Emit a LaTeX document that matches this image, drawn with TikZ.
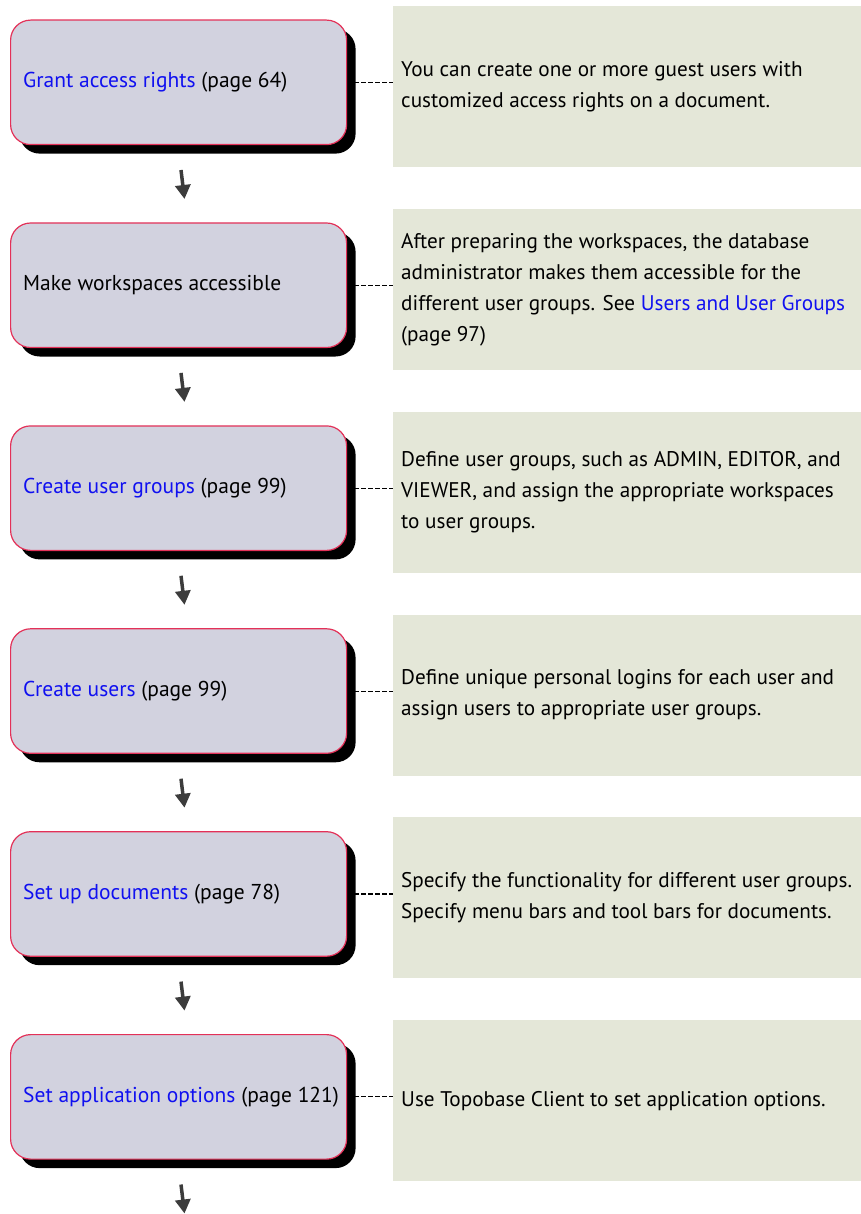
\documentclass[tikz,border=0pt]{standalone}
\usepackage{fontspec}
\setmainfont{PT Sans}
\usetikzlibrary{arrows.meta,calc,backgrounds,shadows}
\definecolor{boxfill}{HTML}{D2D2DF}
\definecolor{boxline}{HTML}{E33158}
\definecolor{panelfill}{HTML}{E4E7D8}
\definecolor{linkblue}{HTML}{1010F0}
\definecolor{arrowgray}{HTML}{3C3C3C}
\newcommand\lnk[1]{\textcolor{linkblue}{#1}}
\tikzset{
  stepbox/.style={draw=boxline, line width=1.2pt, fill=boxfill, rounded corners=20pt,
    minimum width=336pt, minimum height=124.5pt, anchor=north west, inner sep=0pt,
    drop shadow={opacity=1, fill=black, shadow xshift=9pt, shadow yshift=-9pt}},
  steptext/.style={anchor=west, inner sep=0pt, align=left, font=\fontsize{21.5}{31}\selectfont},
  panel/.style={fill=panelfill, draw=none, minimum width=468pt, minimum height=161pt,
    anchor=north west, inner sep=0pt},
  paneltext/.style={anchor=west, inner sep=0pt, align=left, font=\fontsize{21.2}{31}\selectfont},
  dashlink/.style={draw=black, line width=1.1pt, dash pattern=on 4.5pt off 2.5pt},
  flowarrow/.style={draw=arrowgray, line width=3.5pt, -{Triangle[width=15pt,length=14pt]}}
}
\begin{document}
\begin{tikzpicture}[x=1pt,y=-1pt]
\useasboundingbox (0,0) rectangle (861,1214);
% panels
\node[panel] (p1) at (393,6) {};
\node[panel] (p2) at (393,208.8) {};
\node[panel] (p3) at (393,411.6) {};
\node[panel] (p4) at (393,614.4) {};
\node[panel] (p5) at (393,817.2) {};
\node[panel] (p6) at (393,1020) {};
\node[paneltext] (q1) at ($(p1.west)+(8,0)$) {You can create one or more guest users with\\customized access rights on a document.};
\node[paneltext] (q2) at ($(p2.west)+(8,0)$) {After preparing the workspaces, the database\\administrator makes them accessible for the\\different user groups. See \lnk{Users and User Groups}\\(page 97)};
\node[paneltext] (q3) at ($(p3.west)+(8,0)$) {Define user groups, such as ADMIN, EDITOR, and\\VIEWER, and assign the appropriate workspaces\\to user groups.};
\node[paneltext] (q4) at ($(p4.west)+(8,0)$) {Define unique personal logins for each user and\\assign users to appropriate user groups.};
\node[paneltext] (q5) at ($(p5.west)+(8,0)$) {Specify the functionality for different user groups.\\Specify menu bars and tool bars for documents.};
\node[paneltext] (q6) at ($(p6.west)+(8,0)$) {Use Topobase Client to set application options.};
% boxes
\node[stepbox] (b1) at (10,19.5) {};
\node[stepbox] (b2) at (10,222.4) {};
\node[stepbox] (b3) at (10,425.3) {};
\node[stepbox] (b4) at (10,628.2) {};
\node[stepbox] (b5) at (10,831.1) {};
\node[stepbox] (b6) at (10,1034) {};
\node[steptext] (t1) at ($(b1.west)+(13,0)$) {\lnk{Grant access rights} (page 64)};
\node[steptext] (t2) at ($(b2.west)+(13,0)$) {Make workspaces accessible};
\node[steptext] (t3) at ($(b3.west)+(13,0)$) {\lnk{Create user groups} (page 99)};
\node[steptext] (t4) at ($(b4.west)+(13,0)$) {\lnk{Create users} (page 99)};
\node[steptext] (t5) at ($(b5.west)+(13,0)$) {\lnk{Set up documents} (page 78)};
\node[steptext] (t6) at ($(b6.west)+(13,0)$) {\lnk{Set application options} (page 121)};
% dashed links
\begin{scope}[on background layer]
\foreach \i in {1,...,6} {
  \draw[dashlink] (b\i.east) -- (b\i.east -| p\i.west);
}
\end{scope}
% arrows
\foreach \i/\y in {1/170,2/372.9,3/575.8,4/778.7,5/981.6,6/1184.5} {
  \coordinate (a\i s) at (181,\y);
  \coordinate (a\i e) at (184.5,\y+29);
  \draw[flowarrow] (a\i s) -- (a\i e);
}
\end{tikzpicture}
\end{document}
